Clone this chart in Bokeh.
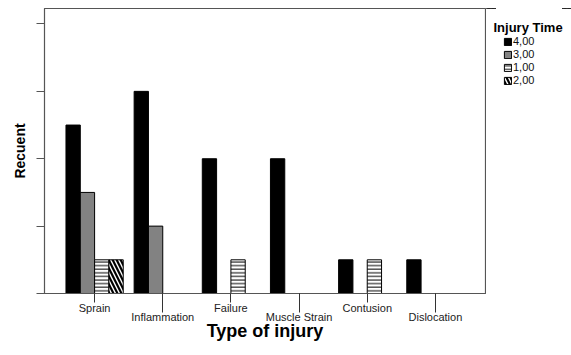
from bokeh.plotting import figure
from bokeh.layouts import row
from bokeh.models import ColumnDataSource, Range1d, FixedTicker, Legend, LegendItem, Label
from bokeh.transform import dodge
from bokeh.embed import file_html
from bokeh.resources import INLINE

categories = ["Sprain", "Inflammation", "Failure", "Muscle Strain", "Contusion", "Dislocation"]
time_4 = [5, 6, 4, 4, 1, 1]
time_3 = [3, 2, 0, 0, 0, 0]
time_1 = [1, 0, 1, 0, 1, 0]
time_2 = [1, 0, 0, 0, 0, 0]
series_labels = ["4,00", "3,00", "1,00", "2,00"]
y_ticks = [0, 2, 4, 6, 8]

xs = list(range(len(categories)))
src = ColumnDataSource(dict(x=xs, t4=time_4, t3=time_3, t1=time_1, t2=time_2))

p = figure(width=486, height=355, output_backend="svg", toolbar_location=None,
           x_range=Range1d(-0.735, len(categories) - 1 + 0.735), y_range=Range1d(0, 8.46),
           min_border_left=44, min_border_right=1, min_border_top=8, min_border_bottom=62)

bw = 0.21
styles = [
    dict(field="t4", off=-1.5 * bw, fill_color="black"),
    dict(field="t3", off=-0.5 * bw, fill_color="#828282"),
    dict(field="t1", off=0.5 * bw, fill_color="white", hatch_pattern="-", hatch_scale=3.6, hatch_weight=1.0),
    dict(field="t2", off=1.5 * bw, fill_color="white", hatch_pattern="\\", hatch_scale=8, hatch_weight=2.2),
]

def style_kw(st):
    kw = dict(fill_color=st["fill_color"], line_color="black", line_width=1)
    if "hatch_pattern" in st:
        kw.update(hatch_pattern=st["hatch_pattern"], hatch_scale=st["hatch_scale"],
                  hatch_weight=st["hatch_weight"], hatch_color="black")
    return kw

for st in styles:
    p.vbar(x=dodge("x", st["off"], range=p.x_range), top=st["field"], bottom=0,
           width=bw, source=src, **style_kw(st))

p.grid.visible = False
p.outline_line_color = "#555555"
p.outline_line_width = 1.2
p.background_fill_color = "white"
p.border_fill_color = "white"

# y axis
p.yaxis.ticker = FixedTicker(ticks=y_ticks)
p.yaxis.major_tick_out = 8
p.yaxis.major_tick_in = 0
p.yaxis.minor_tick_out = 0
p.yaxis.minor_tick_in = 0
p.yaxis.major_label_text_font_size = "0px"
p.yaxis.major_label_standoff = 0
p.yaxis.axis_line_color = "#555555"
p.yaxis.major_tick_line_color = "#555555"
p.yaxis.axis_label = "Recuent"
p.yaxis.axis_label_text_font = "Liberation Sans"
p.yaxis.axis_label_text_font_style = "bold"
p.yaxis.axis_label_text_font_size = "14px"
p.yaxis.axis_label_text_color = "black"
p.yaxis.axis_label_standoff = 9

# x axis: staggered labels
p.xaxis.ticker = FixedTicker(ticks=xs, minor_ticks=[i for i in xs if i % 2 == 1])
p.xaxis.major_label_overrides = {i: (c if i % 2 == 0 else "\n" + c) for i, c in zip(xs, categories)}
p.xaxis.major_tick_out = 9
p.xaxis.major_tick_in = 0
p.xaxis.minor_tick_out = 19
p.xaxis.minor_tick_in = 0
p.xaxis.major_label_standoff = -11
p.xaxis.major_label_text_font = "Liberation Sans"
p.xaxis.major_label_text_font_size = "11px"
p.xaxis.major_label_text_line_height = 0.8
p.xaxis.major_label_text_color = "#222222"
p.xaxis.axis_line_color = "#555555"
p.xaxis.major_tick_line_color = "#333333"
p.xaxis.minor_tick_line_color = "#333333"
p.xaxis.axis_label = "Type of injury"
p.xaxis.axis_label_text_font = "Liberation Sans"
p.xaxis.axis_label_text_font_style = "bold"
p.xaxis.axis_label_text_font_size = "18px"
p.xaxis.axis_label_text_color = "black"
p.xaxis.axis_label_standoff = -5

# legend panel (its frame is aligned with the main frame by the row layout);
# its renderers use the same data but lie outside its visible y range
lg = figure(width=85, height=355, output_backend="svg", toolbar_location=None,
            min_border=0, x_range=Range1d(0, 1), y_range=Range1d(-2, -1))
lg.axis.visible = False
lg.grid.visible = False
lg.outline_line_color = None
lg.background_fill_color = "white"
lg.border_fill_color = "white"
items = []
for st, lab in zip(styles, series_labels):
    r = lg.vbar(x="x", top=st["field"], bottom=0, width=bw, source=src, **style_kw(st))
    items.append(LegendItem(label=lab, renderers=[r]))

lg.add_layout(Label(x=7, y=266, x_units="screen", y_units="screen", text="Injury Time",
                    text_font="Liberation Sans", text_font_style="bold", text_font_size="13px",
                    text_baseline="middle", text_align="left", text_color="black"))

legend = Legend(items=items, location=(17, 207))
legend.label_text_font = "Liberation Sans"
legend.label_text_font_size = "11px"
legend.label_text_color = "#111111"
legend.label_height = 10
legend.glyph_height = 9
legend.glyph_width = 9
legend.spacing = 1
legend.label_standoff = 1
legend.padding = 0
legend.margin = 0
legend.border_line_color = None
legend.background_fill_alpha = 0
lg.add_layout(legend)

layout = row(p, lg, spacing=0)
open("out.html", "w").write(file_html(layout, INLINE))
